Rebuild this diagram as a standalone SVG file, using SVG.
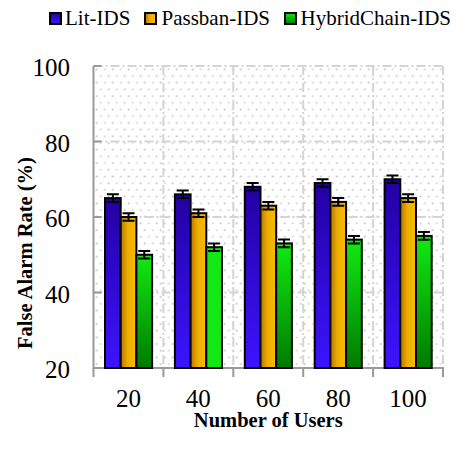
<svg xmlns="http://www.w3.org/2000/svg" width="460" height="449" viewBox="0 0 460 449">
<style>
text{font-family:'Liberation Serif','Times New Roman',serif;fill:#000}
.tick{font-size:25px}
.ttl{font-size:20.5px;font-weight:bold}
.leg{font-size:21px}
.bar{stroke:#000;stroke-width:2}
.err{stroke:#000;stroke-width:2;fill:none}
.grid{stroke:#d4d4d4;stroke-width:2;stroke-dasharray:9 3 2 3;fill:none}
.axis{stroke:#9a9a9a;stroke-width:2;fill:none}
.b{fill:url(#gBlue)}
.o{fill:url(#gOrange)}
.g{fill:url(#gGreen)}
</style>
<defs>
<linearGradient id="gBlue" x1="0" y1="0" x2="0" y2="1">
<stop offset="0" stop-color="#2300a2"/>
<stop offset="1" stop-color="#3c14ff"/>
</linearGradient>
<linearGradient id="gOrange" x1="0" y1="0" x2="1" y2="0">
<stop offset="0" stop-color="#b87400"/>
<stop offset="0.45" stop-color="#eeae00"/>
<stop offset="1" stop-color="#f7bc00"/>
</linearGradient>
<linearGradient id="gGreen" x1="0" y1="0" x2="0" y2="1">
<stop offset="0" stop-color="#12ea12"/>
<stop offset="1" stop-color="#007a00"/>
</linearGradient>
<pattern id="dots" x="93.5" y="66" width="16" height="13.4" patternUnits="userSpaceOnUse">
<rect x="2.5" y="2.5" width="1.6" height="1.6" fill="#b4b4b4"/>
<rect x="10.5" y="2.5" width="1.6" height="1.6" fill="#c8c8c8"/>
<rect x="6.5" y="9.2" width="1.6" height="1.6" fill="#c8c8c8"/>
<rect x="14.5" y="9.2" width="1.6" height="1.6" fill="#b4b4b4"/>
</pattern>
</defs>

<g id="plot-area">
<rect x="93.5" y="66" width="349.5" height="302" fill="#fff"/>
<rect x="93.5" y="66" width="349.5" height="302" fill="url(#dots)"/>
<path class="grid" d="M93.5 141.5H443M93.5 217H443M93.5 292.5H443M163.4 66V368M233.3 66V368M303.2 66V368M373.1 66V368M93.5 66H443M443 66V368"/>
</g>

<g id="axes">
<path class="axis" d="M93.5 66V369M92.5 368H444"/>
<path class="axis" d="M93.5 66H101.5M93.5 141.5H101.5M93.5 217H101.5M93.5 292.5H101.5"/>
<path class="axis" d="M93.5 368V377M163.4 368V377M233.3 368V377M303.2 368V377M373.1 368V377M443 368V377"/>
</g>

<g id="series-lit-ids">
<rect class="bar b" x="105" y="198.1" width="15.7" height="169.9"/>
<rect class="bar b" x="174.9" y="194.35" width="15.7" height="173.65"/>
<rect class="bar b" x="244.8" y="186.8" width="15.7" height="181.2"/>
<rect class="bar b" x="314.7" y="183" width="15.7" height="185"/>
<rect class="bar b" x="384.6" y="179.25" width="15.7" height="188.75"/>
</g>
<g id="series-passban-ids">
<rect class="bar o" x="120.7" y="217" width="15.7" height="151"/>
<rect class="bar o" x="190.6" y="213.2" width="15.7" height="154.8"/>
<rect class="bar o" x="260.5" y="205.7" width="15.7" height="162.3"/>
<rect class="bar o" x="330.4" y="201.9" width="15.7" height="166.1"/>
<rect class="bar o" x="400.3" y="198.1" width="15.7" height="169.9"/>
</g>
<g id="series-hybridchain-ids">
<rect class="bar g" x="136.4" y="254.75" width="15.7" height="113.25"/>
<rect class="bar" fill="#12e812" x="206.3" y="247.2" width="15.7" height="120.8"/>
<rect class="bar g" x="276.2" y="243.4" width="15.7" height="124.6"/>
<rect class="bar g" x="346.1" y="239.65" width="15.7" height="128.35"/>
<rect class="bar g" x="416" y="235.9" width="15.7" height="132.1"/>
</g>

<g id="error-bars">
<path class="err" d="M112.85 194.3V201.9M106.85 194.3H118.85M106.85 201.9H118.85"/>
<path class="err" d="M182.75 190.6V198.1M176.75 190.6H188.75M176.75 198.1H188.75"/>
<path class="err" d="M252.65 183V190.6M246.65 183H258.65M246.65 190.6H258.65"/>
<path class="err" d="M322.55 179.2V186.8M316.55 179.2H328.55M316.55 186.8H328.55"/>
<path class="err" d="M392.45 175.5V183M386.45 175.5H398.45M386.45 183H398.45"/>

<path class="err" d="M128.55 213.2V220.8M122.55 213.2H134.55M122.55 220.8H134.55"/>
<path class="err" d="M198.45 209.4V217M192.45 209.4H204.45M192.45 217H204.45"/>
<path class="err" d="M268.35 201.9V209.5M262.35 201.9H274.35M262.35 209.5H274.35"/>
<path class="err" d="M338.25 198.1V205.7M332.25 198.1H344.25M332.25 205.7H344.25"/>
<path class="err" d="M408.15 194.3V201.9M402.15 194.3H414.15M402.15 201.9H414.15"/>

<path class="err" d="M144.25 251V258.5M138.25 251H150.25M138.25 258.5H150.25"/>
<path class="err" d="M214.15 243.4V251M208.15 243.4H220.15M208.15 251H220.15"/>
<path class="err" d="M284.05 239.6V247.2M278.05 239.6H290.05M278.05 247.2H290.05"/>
<path class="err" d="M353.95 235.9V243.4M347.95 235.9H359.95M347.95 243.4H359.95"/>
<path class="err" d="M423.85 232.1V239.7M417.85 232.1H429.85M417.85 239.7H429.85"/>
</g>

<g id="y-axis-labels" class="tick" text-anchor="end" font-family="Liberation Serif, serif">
<text x="70" y="76">100</text>
<text x="70" y="151.5">80</text>
<text x="70" y="227">60</text>
<text x="70" y="302.5">40</text>
<text x="70" y="378">20</text>
</g>
<g id="x-axis-labels" class="tick" text-anchor="middle" font-family="Liberation Serif, serif">
<text x="128.45" y="406.5">20</text>
<text x="198.35" y="406.5">40</text>
<text x="268.25" y="406.5">60</text>
<text x="338.15" y="406.5">80</text>
<text x="408.05" y="406.5">100</text>
</g>
<g id="axis-titles" font-family="Liberation Serif, serif">
<text class="ttl" x="268.25" y="427" text-anchor="middle">Number of Users</text>
<text class="ttl" transform="translate(32 253) rotate(-90)" text-anchor="middle">False Alarm Rate (%)</text>
</g>

<g id="legend" font-family="Liberation Serif, serif">
<g id="legend-lit-ids">
<rect class="bar b" x="50" y="13" width="11" height="11"/>
<text class="leg" x="65" y="25">Lit-IDS</text>
</g>
<g id="legend-passban-ids">
<rect class="bar o" x="145" y="13" width="11" height="11"/>
<text class="leg" x="161.5" y="25">Passban-IDS</text>
</g>
<g id="legend-hybridchain-ids">
<rect class="bar g" x="285" y="13" width="11" height="11"/>
<text class="leg" x="300.5" y="25">HybridChain-IDS</text>
</g>
</g>
</svg>
